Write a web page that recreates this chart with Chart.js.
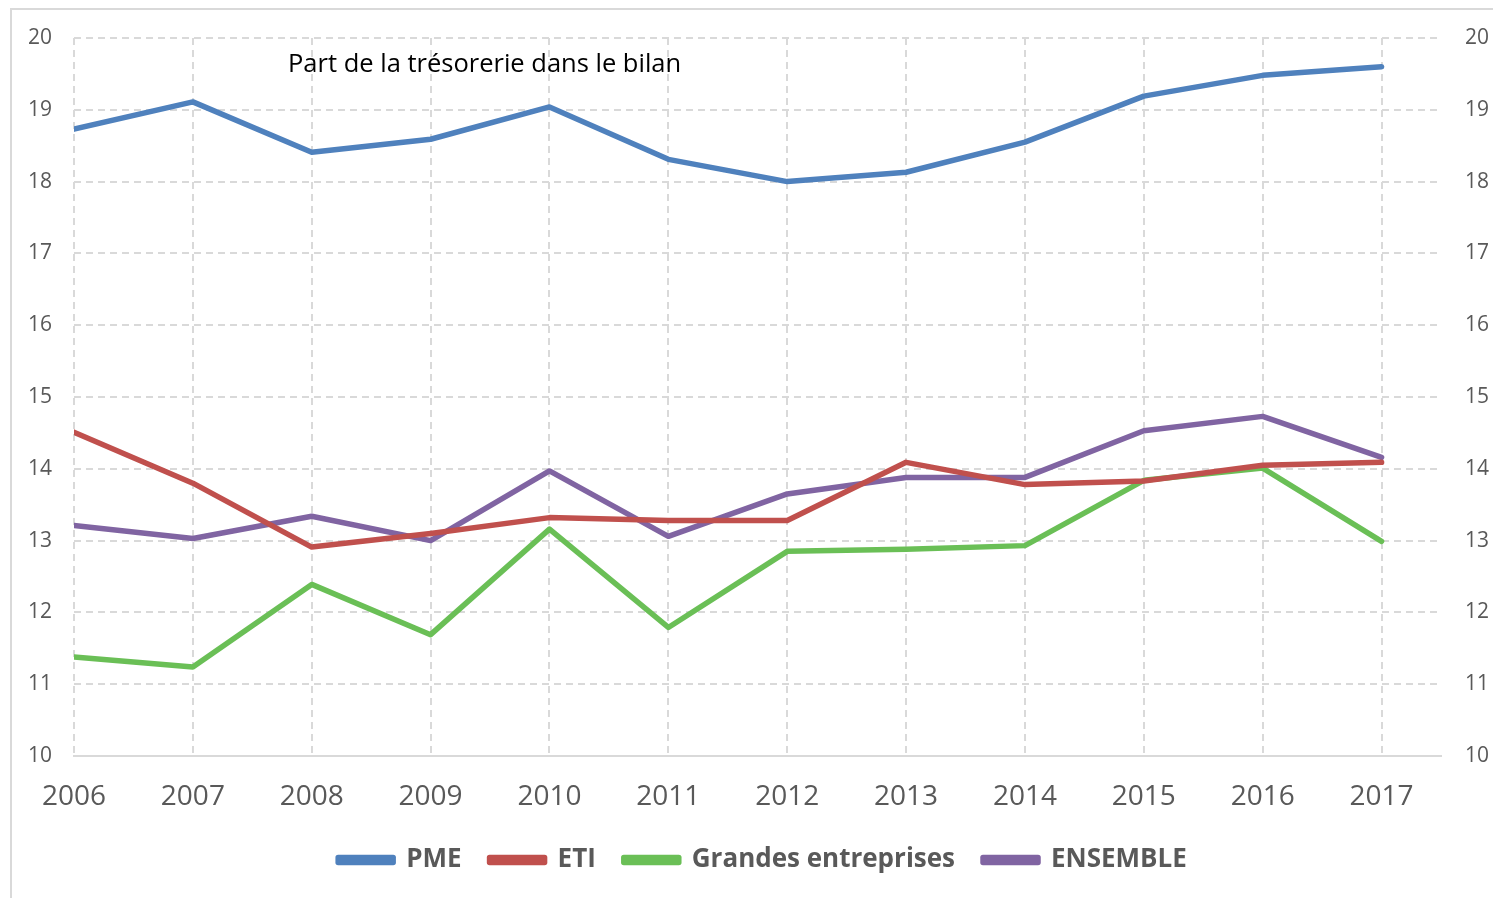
<!DOCTYPE html>
<html>
<head>
<meta charset="utf-8">
<script src="https://cdn.jsdelivr.net/npm/chart.js@4/dist/chart.umd.min.js"></script>
<style>
  html, body { margin: 0; background: #fff; overflow: hidden; }
  #frame { position: absolute; left: 10px; top: 8px; width: 1483px; height: 890px;
           border-left: 2px solid #d9d9d9; border-top: 2px solid #d9d9d9; }
  #wrap { position: absolute; left: 0; top: 0; width: 1493px; height: 898px; }
</style>
</head>
<body>
<div id="frame"></div>
<div id="wrap"><canvas id="tresorerie"></canvas></div>
<script>
const years = [2006, 2007, 2008, 2009, 2010, 2011, 2012, 2013, 2014, 2015, 2016, 2017];
const pme = [18.73, 19.11, 18.41, 18.59, 19.04, 18.31, 18.00, 18.13, 18.55, 19.19, 19.48, 19.60];
const eti = [14.51, 13.80, 12.91, 13.10, 13.32, 13.28, 13.28, 14.09, 13.78, 13.83, 14.05, 14.09];
const grandes = [11.38, 11.24, 12.39, 11.69, 13.16, 11.79, 12.85, 12.88, 12.93, 13.84, 14.01, 12.99];
const ensemble = [13.21, 13.03, 13.34, 13.00, 13.97, 13.06, 13.65, 13.88, 13.88, 14.53, 14.73, 14.16];

const chartTitle = "Part de la trésorerie dans le bilan";
const greyText = "#595959";
const gridColor = "#d9d9d9";

function points(vals) {
  return years.map((y, i) => ({ x: y, y: vals[i] }));
}

function line(label, vals, color) {
  return {
    label: label,
    data: points(vals),
    borderColor: color,
    backgroundColor: color,
    borderWidth: 5.5,
    pointRadius: 0,
    tension: 0,
    borderJoinStyle: "round",
    borderCapStyle: "round",
    fill: false
  };
}

// title written inside the plot, like the original
const innerTitle = {
  id: "innerTitle",
  afterLayout(chart) {
    // legend sits a little right of centre in the original
    chart.legend.left += 16;
    chart.legend.right += 16;
  },
  afterDraw(chart) {
    const ctx = chart.ctx;
    const a = chart.chartArea;
    ctx.save();
    ctx.font = "25.5px 'Open Sans'";
    ctx.fillStyle = "#000";
    ctx.textBaseline = "middle";
    ctx.fillText(chartTitle, a.left + 214, a.top + 27);
    ctx.restore();
  }
};

new Chart("tresorerie", {
  type: "line",
  data: {
    datasets: [
      line("PME", pme, "#4f81bd"),
      line("ETI", eti, "#c0504d"),
      line("Grandes entreprises", grandes, "#6abf56"),
      line("ENSEMBLE", ensemble, "#8064a2")
    ]
  },
  plugins: [innerTitle],
  options: {
    responsive: true,
    maintainAspectRatio: false,
    animation: false,
    layout: { padding: { top: 38, left: 0, right: 0, bottom: 15 } },
    plugins: {
      tooltip: { enabled: false },
      legend: {
        position: "bottom",
        labels: {
          boxWidth: 55,
          boxHeight: 5,
          padding: 28,
          color: greyText,
          font: { family: "'Open Sans'", size: 26, weight: "bold" }
        }
      }
    },
    scales: {
      x: {
        type: "linear",
        min: 2006,
        max: 2017.5,
        afterFit(s) { s.height = 63; },
        grid: { color: gridColor, lineWidth: 2, drawTicks: false },
        border: { display: true, color: gridColor, width: 2, dash: [7, 5] },
        ticks: {
          stepSize: 1,
          includeBounds: false,
          padding: 24,
          color: greyText,
          font: { family: "'Open Sans'", size: 28 },
          callback: v => (Number.isInteger(v) && v <= 2017) ? String(v) : ""
        }
      },
      y: {
        position: "left",
        min: 10,
        max: 20,
        afterFit(s) { s.width = 74; },
        grid: { color: gridColor, lineWidth: 2, drawTicks: false },
        border: { display: false, dash: [7, 5] },
        ticks: {
          stepSize: 1,
          padding: 22,
          color: greyText,
          font: { family: "'Open Sans'", size: 21 }
        }
      },
      y2: {
        position: "right",
        min: 10,
        max: 20,
        afterFit(s) { s.width = 52; },
        grid: { display: false, drawTicks: false },
        border: { display: false },
        ticks: {
          stepSize: 1,
          padding: 24,
          color: greyText,
          font: { family: "'Open Sans'", size: 21 }
        }
      }
    }
  }
});
</script>
</body>
</html>
